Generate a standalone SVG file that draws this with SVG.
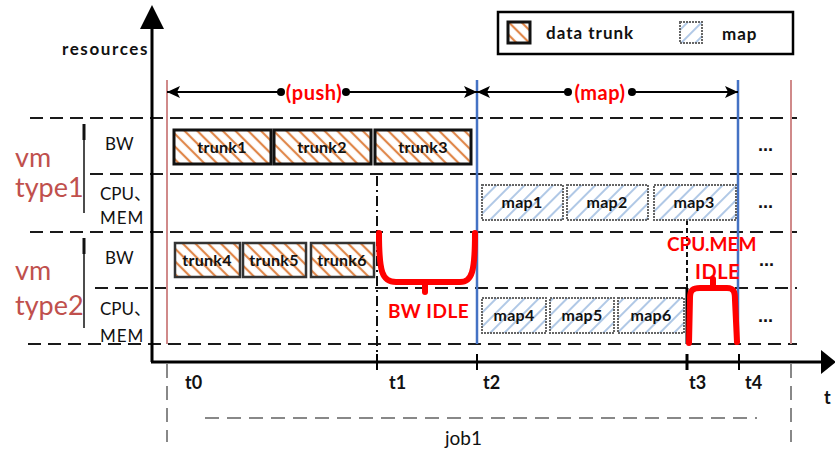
<svg xmlns="http://www.w3.org/2000/svg" width="835" height="452" viewBox="0 0 835 452">
<style>
.lbl{font-family:Lato,"Liberation Sans","Noto Sans CJK SC",sans-serif;font-size:17px;fill:#111}
.bx{font-family:Lato,"Liberation Sans",sans-serif;font-size:16px;font-weight:bold;fill:#111;text-anchor:middle;letter-spacing:0.3px}
.red{font-family:Lato,"Liberation Sans",sans-serif;font-size:19px;font-weight:bold;fill:#ff0000;letter-spacing:0.5px}
.vm{font-family:Lato,"Liberation Sans",sans-serif;font-size:27px;fill:#c0504d}
.tk{font-family:Lato,"Liberation Sans",sans-serif;font-size:18px;font-weight:bold;fill:#111}
.dash{stroke:#1a1a1a;stroke-width:2;stroke-dasharray:13 7;fill:none}
.gdash{stroke:#888;stroke-width:2;stroke-dasharray:14 8;fill:none}
.trunk{fill:url(#hatchO);stroke:#111;stroke-width:3}
.trunk2{fill:url(#hatchO);stroke:#333;stroke-width:2.5}
.map{fill:url(#hatchB);stroke:#666;stroke-width:2;stroke-dasharray:2 1}
.idle{stroke:#ff0000;stroke-width:6;fill:none;stroke-linecap:round;stroke-linejoin:round}
.dots{font-family:"Liberation Sans",sans-serif;font-size:18px;font-weight:bold;fill:#111}
</style>
<defs>
<pattern id="hatchO" patternUnits="userSpaceOnUse" width="9" height="9" patternTransform="rotate(-45)">
<rect width="9" height="9" fill="#fff"/>
<line x1="2" y1="0" x2="2" y2="9" stroke="#e0874a" stroke-width="2.2"/>
</pattern>
<pattern id="hatchB" patternUnits="userSpaceOnUse" width="10" height="10" patternTransform="rotate(45)">
<rect width="10" height="10" fill="#fff"/>
<line x1="2" y1="0" x2="2" y2="10" stroke="#9dbbe0" stroke-width="1.6"/>
</pattern>
<marker id="ah" markerWidth="14" markerHeight="14" refX="13" refY="7" orient="auto-start-reverse" markerUnits="userSpaceOnUse">
<path d="M0,1 L13,7 L0,13 L3,7 Z" fill="#000"/>
</marker>
</defs>

<!-- legend -->
<g id="legend">
<rect x="498" y="12" width="295" height="42" fill="#fff" stroke="#000" stroke-width="2.5"/>
<rect x="508" y="22" width="22" height="21" class="trunk"/>
<text x="546" y="39" class="tk" style="font-size:17px;letter-spacing:1px">data trunk</text>
<rect x="680" y="22" width="22" height="21" class="map"/>
<text x="722" y="40" class="tk" style="font-size:17px;letter-spacing:1px">map</text>
</g>

<!-- background grid lines -->
<g id="grid">
<line x1="30" y1="118" x2="797" y2="118" class="dash"/>
<line x1="90" y1="174" x2="797" y2="174" class="dash"/>
<line x1="30" y1="232" x2="797" y2="232" class="dash"/>
<line x1="95" y1="288" x2="797" y2="288" class="dash"/>
<line x1="28" y1="344" x2="797" y2="344" class="dash"/>
<line x1="167" y1="80" x2="167" y2="344" stroke="#d08a8a" stroke-width="2"/>
<line x1="791" y1="80" x2="791" y2="344" stroke="#d08a8a" stroke-width="2"/>
<line x1="477" y1="80" x2="477" y2="344" stroke="#4472c4" stroke-width="2.5"/>
<line x1="738" y1="80" x2="738" y2="344" stroke="#4472c4" stroke-width="2.5"/>
<line x1="167" y1="364" x2="167" y2="442" class="gdash"/>
<line x1="791" y1="364" x2="791" y2="442" class="gdash"/>
<line x1="205" y1="418" x2="757" y2="418" class="gdash"/>
<line x1="377" y1="176" x2="377" y2="362" stroke="#111" stroke-width="2" stroke-dasharray="10 4 2 4"/>
<line x1="687" y1="220" x2="687" y2="288" stroke="#111" stroke-width="2" stroke-dasharray="5 3"/>
<line x1="687" y1="288" x2="687" y2="344" stroke="#000" stroke-width="3"/>
</g>

<!-- axes -->
<g id="axes">
<line x1="152" y1="26" x2="152" y2="362" stroke="#000" stroke-width="3"/>
<polygon points="140,29 152,5 164,29" fill="#000"/>
<line x1="151" y1="362" x2="824" y2="362" stroke="#000" stroke-width="3"/>
<polygon points="821,350 836,362 821,374" fill="#000"/>
<line x1="377" y1="354" x2="377" y2="370" stroke="#000" stroke-width="2"/>
<line x1="477" y1="354" x2="477" y2="370" stroke="#000" stroke-width="2"/>
<line x1="687" y1="354" x2="687" y2="370" stroke="#000" stroke-width="3"/>
<line x1="739" y1="354" x2="739" y2="370" stroke="#000" stroke-width="2"/>
<text x="62" y="55" class="tk" style="font-size:17px;letter-spacing:1.6px">resources</text>
<text x="824" y="404" class="tk">t</text>
<text x="185" y="389" class="tk">t0</text>
<text x="389" y="389" class="tk">t1</text>
<text x="483" y="389" class="tk">t2</text>
<text x="689" y="389" class="tk">t3</text>
<text x="745" y="389" class="tk">t4</text>
<text x="445" y="445" class="lbl" style="font-size:19px">job1</text>
</g>

<!-- row labels -->
<g id="labels">
<text x="15" y="167" class="vm">vm</text>
<text x="15" y="197" class="vm">type1</text>
<text x="15" y="280" class="vm">vm</text>
<text x="15" y="315" class="vm">type2</text>
<line x1="84" y1="124" x2="84" y2="213" stroke="#111" stroke-width="1.5"/>
<line x1="84" y1="124" x2="84" y2="140" stroke="#111" stroke-width="3"/>
<line x1="84" y1="238" x2="84" y2="328" stroke="#111" stroke-width="1.5"/>
<line x1="84" y1="238" x2="84" y2="254" stroke="#111" stroke-width="3"/>
<text x="105" y="150" class="lbl">BW</text>
<text x="100" y="200" class="lbl">CPU、</text>
<text x="100" y="224" class="lbl" style="letter-spacing:1px">MEM</text>
<text x="105" y="264" class="lbl">BW</text>
<text x="100" y="315" class="lbl">CPU、</text>
<text x="100" y="342" class="lbl" style="letter-spacing:1px">MEM</text>
</g>

<!-- phase arrows -->
<g id="phases">
<line x1="167" y1="92" x2="281" y2="92" stroke="#000" stroke-width="2" marker-start="url(#ah)"/>
<line x1="346" y1="92" x2="477" y2="92" stroke="#000" stroke-width="2" marker-end="url(#ah)"/>
<circle cx="281" cy="92" r="4"/>
<circle cx="346" cy="92" r="4"/>
<text x="314" y="100" class="red" text-anchor="middle" style="font-size:20px">(push)</text>
<line x1="477" y1="92" x2="568" y2="92" stroke="#000" stroke-width="2" marker-start="url(#ah)"/>
<line x1="632" y1="92" x2="738" y2="92" stroke="#000" stroke-width="2" marker-end="url(#ah)"/>
<circle cx="568" cy="92" r="4"/>
<circle cx="632" cy="92" r="4"/>
<text x="600" y="100" class="red" text-anchor="middle" style="font-size:20px">(map)</text>
</g>

<!-- tasks -->
<g id="trunk1"><rect x="174" y="130" width="97" height="34" class="trunk"/><text x="222" y="153" class="bx">trunk1</text></g>
<g id="trunk2"><rect x="274" y="130" width="97" height="34" class="trunk"/><text x="322" y="153" class="bx">trunk2</text></g>
<g id="trunk3"><rect x="375" y="130" width="96" height="34" class="trunk"/><text x="423" y="153" class="bx">trunk3</text></g>
<g id="map1"><rect x="482" y="185" width="81" height="35" class="map"/><text x="522" y="208" class="bx">map1</text></g>
<g id="map2"><rect x="567" y="185" width="81" height="35" class="map"/><text x="607" y="208" class="bx">map2</text></g>
<g id="map3"><rect x="654" y="185" width="82" height="35" class="map"/><text x="694" y="208" class="bx">map3</text></g>
<g id="trunk4"><rect x="175" y="243" width="65" height="34" class="trunk2"/><text x="207" y="266" class="bx">trunk4</text></g>
<g id="trunk5"><rect x="243" y="243" width="63" height="34" class="trunk2"/><text x="274" y="266" class="bx">trunk5</text></g>
<g id="trunk6"><rect x="311" y="243" width="63" height="34" class="trunk2"/><text x="342" y="266" class="bx">trunk6</text></g>
<g id="map4"><rect x="482" y="298" width="64" height="35" class="map"/><text x="514" y="321" class="bx">map4</text></g>
<g id="map5"><rect x="550" y="298" width="64" height="35" class="map"/><text x="582" y="321" class="bx">map5</text></g>
<g id="map6"><rect x="618" y="298" width="66" height="35" class="map"/><text x="651" y="321" class="bx">map6</text></g>

<g id="more">
<text x="758" y="151" class="dots">...</text>
<text x="758" y="208" class="dots">...</text>
<text x="759" y="266" class="dots">...</text>
<text x="758" y="322" class="dots">...</text>
</g>

<!-- idle markers -->
<g id="bw-idle">
<path d="M379,233 C379,272 382,282 396,282 L460,282 C472,282 475,272 475,233" class="idle"/>
<path d="M425,282 L425,292" class="idle"/>
<text x="388" y="318" class="red">BW IDLE</text>
</g>
<g id="cpu-idle">
<path d="M689,343 L690,298 C690,290 693,288 700,288 L727,288 C734,288 735,292 735,300 L737,342" class="idle"/>
<path d="M713,288 L713,279" class="idle"/>
<text x="667" y="251" class="red" style="font-size:19px;letter-spacing:0">CPU.MEM</text>
<text x="695" y="279" class="red" style="font-size:20px">IDLE</text>
</g>
</svg>
